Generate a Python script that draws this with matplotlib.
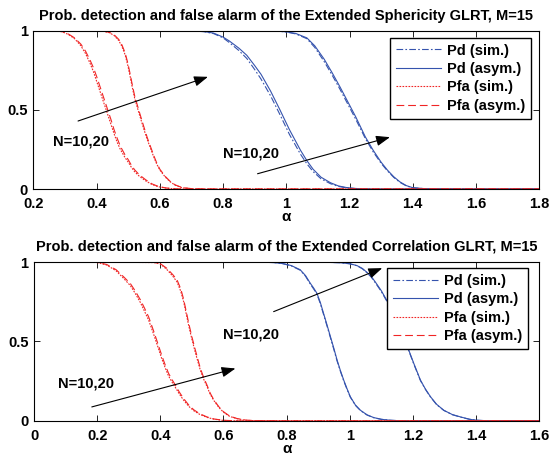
import matplotlib
matplotlib.use("Agg")
import matplotlib.pyplot as plt

plt.rcParams["font.family"] = ["Liberation Sans", "DejaVu Sans"]
plt.rcParams["font.weight"] = "bold"
plt.rcParams["font.size"] = 10.5

BLUE = "#3553ad"
RED = "#f02525"

# ---- top panel: Extended Sphericity GLRT ----
top_pfa10_x = [0.20, 0.26, 0.29, 0.31, 0.33, 0.35, 0.365, 0.38, 0.39, 0.40, 0.41, 0.42, 0.435, 0.445, 0.455,
               0.465, 0.475, 0.49, 0.50, 0.51, 0.52, 0.535, 0.555, 0.575, 0.595, 0.62, 0.65, 0.70, 0.75, 1.8]
top_pfa10_asym = [1, 1, 0.995, 0.98, 0.955, 0.915, 0.87, 0.81, 0.765, 0.71, 0.65, 0.59, 0.50, 0.44, 0.375,
                  0.32, 0.27, 0.215, 0.185, 0.15, 0.122, 0.09, 0.059, 0.033, 0.017, 0.007, 0.002, 0, 0, 0]
top_pfa10_sim = [1, 1, 0.994, 0.977, 0.95, 0.905, 0.855, 0.79, 0.74, 0.68, 0.62, 0.56, 0.47, 0.41, 0.35,
                 0.295, 0.25, 0.198, 0.17, 0.137, 0.11, 0.081, 0.052, 0.029, 0.015, 0.006, 0.001, 0, 0, 0]

top_pfa20_x = [0.20, 0.40, 0.42, 0.44, 0.455, 0.47, 0.48, 0.49, 0.498, 0.505, 0.512, 0.52, 0.533, 0.549, 0.56,
               0.57, 0.58, 0.59, 0.60, 0.617, 0.632, 0.648, 0.67, 0.70, 0.75, 1.8]
top_pfa20_asym = [1, 1, 0.998, 0.99, 0.975, 0.945, 0.91, 0.86, 0.80, 0.735, 0.665, 0.59, 0.50, 0.395, 0.325,
                  0.27, 0.215, 0.165, 0.125, 0.08, 0.05, 0.027, 0.01, 0.003, 0, 0]
top_pfa20_sim = [1, 1, 0.997, 0.988, 0.97, 0.938, 0.90, 0.848, 0.785, 0.72, 0.65, 0.575, 0.485, 0.38, 0.313,
                 0.26, 0.206, 0.158, 0.12, 0.076, 0.047, 0.025, 0.009, 0.002, 0, 0]

top_pd10_x = [0.20, 0.60, 0.70, 0.74, 0.77, 0.80, 0.82, 0.85, 0.875, 0.90, 0.92, 0.95, 0.98, 1.01, 1.045,
              1.065, 1.085, 1.11, 1.14, 1.165, 1.19, 1.22, 1.25, 1.30, 1.40, 1.8]
top_pd10_asym = [1, 1, 0.999, 0.995, 0.985, 0.96, 0.935, 0.89, 0.845, 0.78, 0.725, 0.62, 0.50, 0.375, 0.245,
                 0.18, 0.125, 0.075, 0.04, 0.02, 0.01, 0.004, 0.001, 0, 0, 0]
top_pd10_sim = [1, 1, 0.999, 0.994, 0.982, 0.955, 0.925, 0.875, 0.825, 0.755, 0.695, 0.59, 0.47, 0.345, 0.22,
                0.16, 0.11, 0.065, 0.034, 0.017, 0.008, 0.003, 0.001, 0, 0, 0]

top_pd20_x = [0.20, 0.90, 0.97, 1.00, 1.03, 1.065, 1.09, 1.12, 1.145, 1.17, 1.195, 1.22, 1.25, 1.275, 1.30,
              1.32, 1.34, 1.36, 1.38, 1.40, 1.45, 1.55, 1.8]
top_pd20_asym = [1, 1, 0.998, 0.993, 0.983, 0.955, 0.905, 0.82, 0.735, 0.645, 0.55, 0.455, 0.33, 0.245, 0.17,
                 0.12, 0.078, 0.045, 0.022, 0.009, 0.001, 0, 0]
top_pd20_sim = [1, 1, 0.998, 0.992, 0.98, 0.95, 0.895, 0.805, 0.72, 0.63, 0.535, 0.44, 0.32, 0.235, 0.163,
                0.115, 0.074, 0.042, 0.02, 0.008, 0.001, 0, 0]

# ---- bottom panel: Extended Correlation GLRT ----
bot_pfa10_x = [0.18, 0.20, 0.23, 0.26, 0.285, 0.305, 0.32, 0.337, 0.35, 0.363, 0.379, 0.39, 0.405, 0.415,
               0.426, 0.437, 0.448, 0.46, 0.474, 0.49, 0.506, 0.525, 0.548, 0.57, 0.60, 0.645, 0.70, 1.6]
bot_pfa10_asym = [1, 0.998, 0.985, 0.952, 0.905, 0.865, 0.82, 0.762, 0.71, 0.655, 0.565, 0.50, 0.41, 0.355,
                  0.30, 0.26, 0.225, 0.182, 0.14, 0.10, 0.07, 0.045, 0.025, 0.012, 0.004, 0, 0, 0]
bot_pfa10_sim = [1, 0.997, 0.982, 0.945, 0.895, 0.852, 0.805, 0.745, 0.69, 0.635, 0.545, 0.48, 0.39, 0.337,
                 0.283, 0.245, 0.21, 0.17, 0.13, 0.092, 0.064, 0.041, 0.022, 0.011, 0.003, 0, 0, 0]

bot_pfa20_x = [0.18, 0.38, 0.40, 0.42, 0.44, 0.453, 0.465, 0.474, 0.482, 0.49, 0.50, 0.511, 0.52, 0.527,
               0.538, 0.548, 0.558, 0.569, 0.585, 0.60, 0.62, 0.643, 0.67, 0.70, 0.80, 1.6]
bot_pfa20_asym = [1, 0.998, 0.99, 0.962, 0.92, 0.888, 0.83, 0.765, 0.69, 0.615, 0.53, 0.446, 0.38, 0.33,
                  0.27, 0.225, 0.175, 0.135, 0.09, 0.058, 0.03, 0.015, 0.005, 0.002, 0, 0]
bot_pfa20_sim = [1, 0.997, 0.988, 0.955, 0.91, 0.875, 0.815, 0.75, 0.675, 0.60, 0.515, 0.43, 0.367, 0.318,
                 0.26, 0.216, 0.168, 0.13, 0.086, 0.055, 0.028, 0.014, 0.004, 0.001, 0, 0]

bot_pd10_x = [0.18, 0.70, 0.76, 0.79, 0.815, 0.843, 0.86, 0.875, 0.886, 0.896, 0.907, 0.917, 0.928, 0.939,
              0.95, 0.96, 0.97, 0.981, 0.992, 1.002, 1.018, 1.034, 1.055, 1.076, 1.10, 1.129, 1.17, 1.6]
bot_pd10_asym = [1, 1, 0.997, 0.99, 0.978, 0.952, 0.915, 0.867, 0.836, 0.804, 0.745, 0.678, 0.605, 0.53,
                 0.455, 0.383, 0.32, 0.257, 0.20, 0.152, 0.10, 0.067, 0.038, 0.021, 0.01, 0.004, 0, 0]
bot_pd10_sim = [1, 1, 0.997, 0.989, 0.976, 0.949, 0.911, 0.862, 0.83, 0.798, 0.738, 0.671, 0.598, 0.523,
                0.448, 0.377, 0.315, 0.252, 0.196, 0.149, 0.098, 0.065, 0.037, 0.02, 0.01, 0.004, 0, 0]

bot_pd20_x = [0.18, 0.90, 0.97, 1.00, 1.023, 1.04, 1.055, 1.068, 1.081, 1.10, 1.12, 1.15, 1.17, 1.187, 1.203,
              1.224, 1.24, 1.256, 1.275, 1.298, 1.325, 1.351, 1.38, 1.404, 1.447, 1.6]
bot_pd20_asym = [1, 1, 0.996, 0.99, 0.978, 0.96, 0.935, 0.91, 0.875, 0.82, 0.75, 0.63, 0.535, 0.446, 0.362,
                 0.257, 0.20, 0.152, 0.105, 0.067, 0.04, 0.025, 0.01, 0.004, 0, 0]
bot_pd20_sim = [1, 1, 0.996, 0.989, 0.977, 0.958, 0.932, 0.906, 0.87, 0.815, 0.745, 0.625, 0.53, 0.442, 0.358,
                0.254, 0.198, 0.15, 0.103, 0.066, 0.039, 0.024, 0.01, 0.004, 0, 0]

top_title = "Prob. detection and false alarm of the Extended Sphericity GLRT, M=15"
bot_title = "Prob. detection and false alarm of the Extended Correlation GLRT, M=15"

top_xticks = [0.2, 0.4, 0.6, 0.8, 1.0, 1.2, 1.4, 1.6, 1.8]
top_xlabels = ["0.2", "0.4", "0.6", "0.8", "1", "1.2", "1.4", "1.6", "1.8"]
bot_xticks = [0, 0.2, 0.4, 0.6, 0.8, 1.0, 1.2, 1.4, 1.6]
bot_xlabels = ["0", "0.2", "0.4", "0.6", "0.8", "1", "1.2", "1.4", "1.6"]
yticks = [0, 0.5, 1]
ylabels = ["0", "0.5", "1"]

fig = plt.figure(figsize=(5.49, 4.59), dpi=100)
ax1 = fig.add_axes([0.061, 0.588, 0.921, 0.345])
ax2 = fig.add_axes([0.062, 0.083, 0.920, 0.346])


def draw_panel(ax, pd_curves, pfa_curves):
    lw = 0.8
    first = True
    for x, sim, asym in pd_curves:
        ax.plot(x, sim, color=BLUE, ls=(0, (6, 2, 1.5, 2)), lw=lw, label="Pd (sim.)" if first else None)
        ax.plot(x, asym, color=BLUE, ls="-", lw=lw, label="Pd (asym.)" if first else None)
        first = False
    first = True
    for x, sim, asym in pfa_curves:
        ax.plot(x, sim, color=RED, ls=(0, (1.5, 1.2)), lw=lw, label="Pfa (sim.)" if first else None)
        ax.plot(x, asym, color=RED, ls=(0, (7, 3.5)), lw=lw, label="Pfa (asym.)" if first else None)
        first = False


draw_panel(ax1,
           [(top_pd10_x, top_pd10_sim, top_pd10_asym), (top_pd20_x, top_pd20_sim, top_pd20_asym)],
           [(top_pfa10_x, top_pfa10_sim, top_pfa10_asym), (top_pfa20_x, top_pfa20_sim, top_pfa20_asym)])
draw_panel(ax2,
           [(bot_pd10_x, bot_pd10_sim, bot_pd10_asym), (bot_pd20_x, bot_pd20_sim, bot_pd20_asym)],
           [(bot_pfa10_x, bot_pfa10_sim, bot_pfa10_asym), (bot_pfa20_x, bot_pfa20_sim, bot_pfa20_asym)])

ax1.set_xlim(0.2, 1.8)
ax2.set_xlim(0, 1.6)
ax1.set_xticks(top_xticks)
ax1.set_xticklabels(top_xlabels)
ax2.set_xticks(bot_xticks)
ax2.set_xticklabels(bot_xlabels)

for ax, title, leg_anchor in [(ax1, top_title, (0.984, 0.956)), (ax2, bot_title, (0.978, 0.962))]:
    ax.set_ylim(0, 1)
    ax.set_yticks(yticks)
    ax.set_yticklabels(ylabels)
    ax.tick_params(direction="in", top=True, right=True, length=4, width=0.6, labelsize=10.5)
    ax.tick_params(axis="x", pad=6)
    ax.tick_params(axis="y", pad=4)
    for s in ax.spines.values():
        s.set_linewidth(0.8)
    ax.set_title(title, fontsize=10.5, fontweight="bold", pad=8)
    ax.set_xlabel("α", fontsize=11, fontweight="bold", labelpad=-1)
    leg = ax.legend(loc="upper right", bbox_to_anchor=leg_anchor, borderaxespad=0,
                    fancybox=False, edgecolor="black", framealpha=1, fontsize=10.5,
                    handlelength=3.1, labelspacing=0.3, borderpad=0.4, handletextpad=0.4)
    leg.get_frame().set_linewidth(1.0)

arrow_kw = dict(arrowstyle="-|>,head_length=0.8,head_width=0.3", color="black", lw=0.8, shrinkA=0, shrinkB=0)

ax1.annotate("", xy=(0.752, 0.709), xytext=(0.341, 0.43), arrowprops=arrow_kw)
ax1.annotate("", xy=(1.328, 0.328), xytext=(0.909, 0.097), arrowprops=arrow_kw)
ax1.text(0.262, 0.30, "N=10,20", fontsize=10.5, fontweight="bold", va="center", ha="left")
ax1.text(0.80, 0.227, "N=10,20", fontsize=10.5, fontweight="bold", va="center", ha="left")

ax2.annotate("", xy=(0.638, 0.33), xytext=(0.183, 0.088), arrowprops=arrow_kw)
ax2.annotate("", xy=(1.103, 0.962), xytext=(0.759, 0.688), arrowprops=arrow_kw)
ax2.text(0.077, 0.236, "N=10,20", fontsize=10.5, fontweight="bold", va="center", ha="left")
ax2.text(0.60, 0.541, "N=10,20", fontsize=10.5, fontweight="bold", va="center", ha="left")

fig.savefig("out.png", dpi=100)
